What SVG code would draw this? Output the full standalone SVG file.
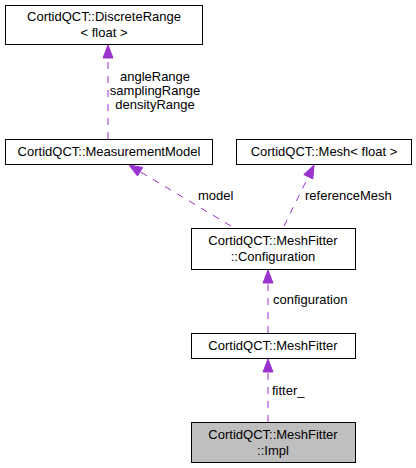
<svg xmlns="http://www.w3.org/2000/svg" width="416" height="468" viewBox="0 0 416 468">
<style>
.box{fill:#ffffff;stroke:#000000;stroke-width:1}
.cur{fill:#bfbfbf;stroke:#000000;stroke-width:1}
text{font-family:"Liberation Sans",Arial,sans-serif;font-size:13px;fill:#000000}
.c{text-anchor:middle}
.e{stroke:#9a32cd;stroke-width:1;stroke-dasharray:7,7;fill:none}
.h{fill:#9a32cd;stroke:#9a32cd;stroke-width:1}
</style>
<rect width="416" height="468" fill="#ffffff"/>
<g id="connectors">
  <line class="e" x1="108" y1="139" x2="108" y2="58"/>
  <polygon class="h" points="108,45 113,58 103,58"/>
  <text x="155" y="81" class="c">angleRange</text>
  <text x="155" y="95" class="c">samplingRange</text>
  <text x="155" y="109" class="c">densityRange</text>

  <line class="e" x1="231" y1="226" x2="140.1" y2="171.7"/>
  <polygon class="h" points="129,165 142.7,167.4 137.5,176"/>
  <text x="198" y="200">model</text>

  <line class="e" x1="284" y1="226" x2="308.3" y2="176.7"/>
  <polygon class="h" points="314,165 312.8,178.9 303.8,174.5"/>
  <text x="305" y="200">referenceMesh</text>

  <line class="e" x1="268" y1="333" x2="268" y2="283"/>
  <polygon class="h" points="268,270 273,283 263,283"/>
  <text x="273" y="304">configuration</text>

  <line class="e" x1="268" y1="422" x2="268" y2="372"/>
  <polygon class="h" points="268,359 273,372 263,372"/>
  <text x="272" y="395">fitter_</text>
</g>
<g id="discreteRange">
  <rect class="box" x="5.5" y="5.5" width="197" height="39"/>
  <text x="104" y="21" class="c">CortidQCT::DiscreteRange</text>
  <text x="104" y="37" class="c">&lt; float &gt;</text>
</g>
<g id="measurementModel">
  <rect class="box" x="5.5" y="139.5" width="207" height="25"/>
  <text x="109" y="156" class="c">CortidQCT::MeasurementModel</text>
</g>
<g id="mesh">
  <rect class="box" x="236.5" y="139.5" width="175" height="25"/>
  <text x="324" y="156" class="c">CortidQCT::Mesh&lt; float &gt;</text>
</g>
<g id="configuration">
  <rect class="box" x="191.5" y="228.5" width="164" height="41"/>
  <text x="273" y="245" class="c">CortidQCT::MeshFitter</text>
  <text x="273" y="261" class="c">::Configuration</text>
</g>
<g id="meshFitter">
  <rect class="box" x="191.5" y="333.5" width="164" height="25"/>
  <text x="273" y="350" class="c">CortidQCT::MeshFitter</text>
</g>
<g id="impl">
  <rect class="cur" x="191.5" y="422.5" width="164" height="40"/>
  <text x="273" y="439" class="c">CortidQCT::MeshFitter</text>
  <text x="273" y="455" class="c">::Impl</text>
</g>
</svg>
